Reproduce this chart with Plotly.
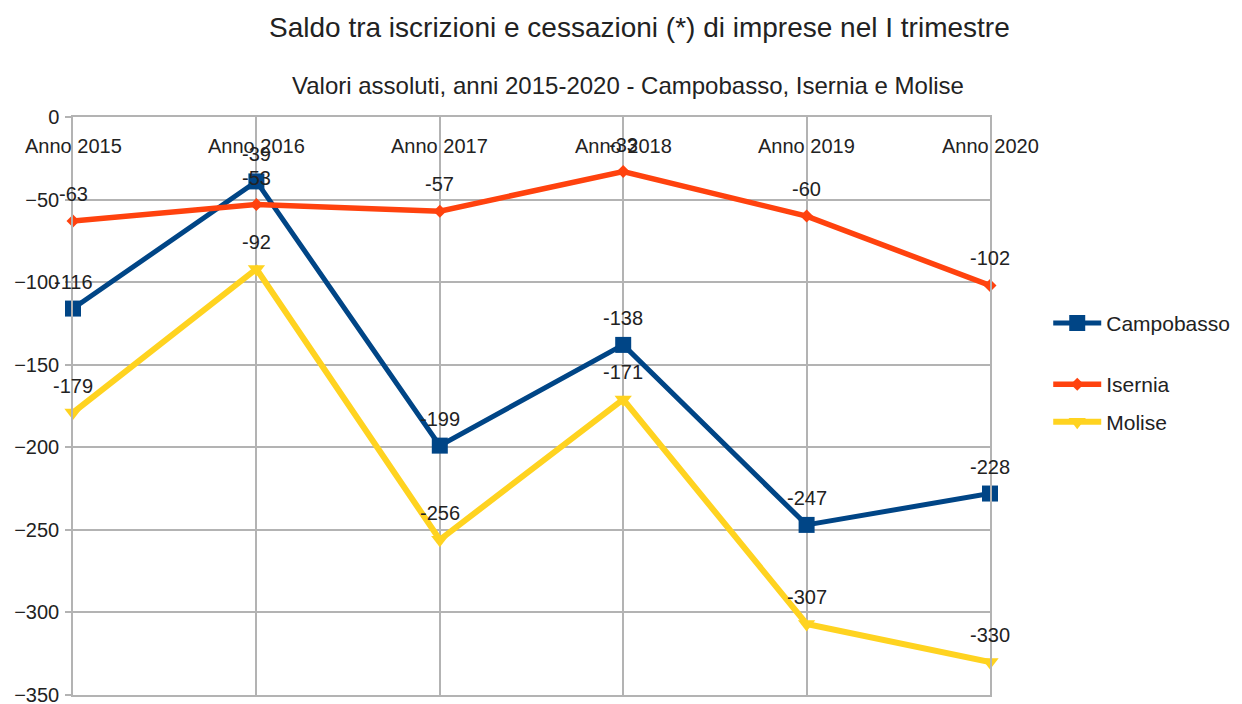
import plotly.graph_objects as go

categories = ["Anno 2015", "Anno 2016", "Anno 2017", "Anno 2018", "Anno 2019", "Anno 2020"]
campobasso = [-116, -39, -199, -138, -247, -228]
isernia = [-63, -53, -57, -33, -60, -102]
molise = [-179, -92, -256, -171, -307, -330]

series = [
    ("Campobasso", campobasso, "#004586", "square", 16, 5, "legend"),
    ("Isernia", isernia, "#ff420e", "diamond", 10, 5.5, "legend2"),
    ("Molise", molise, "#ffd320", "triangle-down", 15, 6, "legend3"),
]

FONT = "Liberation Sans, Arial, sans-serif"
TXT = "#222222"
GRID = "#b3b3b3"

fig = go.Figure()
for name, vals, col, sym, msize, lw, leg in series:
    fig.add_trace(go.Scatter(
        x=categories, y=vals, name=name, mode="lines+markers",
        line=dict(color=col, width=lw),
        marker=dict(symbol=sym, size=msize, color=col),
        cliponaxis=False, legend=leg,
    ))
    for c, v in zip(categories, vals):
        fig.add_annotation(x=c, y=v, text=str(v), showarrow=False,
                           xanchor="center", yanchor="middle", yshift=27,
                           font=dict(family=FONT, size=20, color=TXT))

# category labels just below the top edge
for c in categories:
    fig.add_annotation(x=c, y=0, text=c, showarrow=False,
                       xanchor="center", yanchor="middle", yshift=-29,
                       font=dict(family=FONT, size=20, color=TXT))

fig.add_annotation(xref="paper", yref="paper", x=0.618, y=1.154,
                   text="Saldo tra iscrizioni e cessazioni (*) di imprese nel I trimestre",
                   showarrow=False, xanchor="center", yanchor="middle",
                   font=dict(family=FONT, size=28, color=TXT))
fig.add_annotation(xref="paper", yref="paper", x=0.605, y=1.055,
                   text="Valori assoluti, anni 2015-2020 - Campobasso, Isernia e Molise",
                   showarrow=False, xanchor="center", yanchor="middle",
                   font=dict(family=FONT, size=24, color=TXT))

legstyle = dict(font=dict(family=FONT, size=21, color=TXT), bgcolor="rgba(0,0,0,0)",
                xanchor="left", yanchor="middle", x=1.0635, itemwidth=48)
fig.update_layout(
    width=1242, height=704,
    margin=dict(l=65, r=260, t=109, b=17, autoexpand=False),
    paper_bgcolor="white", plot_bgcolor="white",
    font=dict(family=FONT, size=20, color=TXT),
    legend=dict(y=0.643, **legstyle),
    legend2=dict(y=0.537, **legstyle),
    legend3=dict(y=0.472, **legstyle),
    showlegend=True,
    xaxis=dict(
        type="category", range=[0, 5], side="top",
        showticklabels=False, ticks="",
        showgrid=True, gridcolor=GRID, gridwidth=1.5,
        showline=True, mirror=True, linecolor=GRID, linewidth=1.5,
        automargin=False,
    ),
    yaxis=dict(
        range=[-350, 0], dtick=50, tick0=0,
        ticks="outside", ticklen=6, tickcolor=GRID, tickwidth=1.5,
        ticklabelstandoff=2,
        showgrid=True, gridcolor=GRID, gridwidth=1.5, zeroline=False,
        showline=True, mirror=True, linecolor=GRID, linewidth=1.5,
        tickfont=dict(family=FONT, size=20, color=TXT),
        automargin=False,
    ),
)

fig.write_html("out.html")
